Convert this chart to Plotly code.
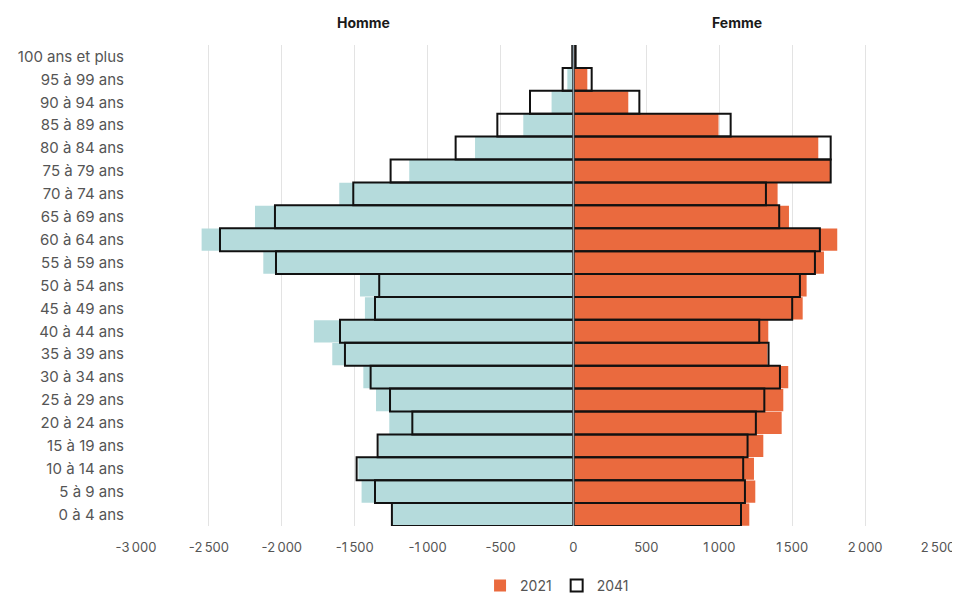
import plotly.graph_objects as go

ages = ["0 à 4 ans", "5 à 9 ans", "10 à 14 ans", "15 à 19 ans", "20 à 24 ans",
        "25 à 29 ans", "30 à 34 ans", "35 à 39 ans", "40 à 44 ans", "45 à 49 ans",
        "50 à 54 ans", "55 à 59 ans", "60 à 64 ans", "65 à 69 ans", "70 à 74 ans",
        "75 à 79 ans", "80 à 84 ans", "85 à 89 ans", "90 à 94 ans", "95 à 99 ans",
        "100 ans et plus"]

hommes_2021 = [1240, 1453, 1475, 1335, 1263, 1354, 1441, 1654, 1780, 1430, 1464,
               2127, 2550, 2184, 1606, 1126, 675, 344, 150, 42, 5]
hommes_2041 = [1245, 1361, 1487, 1343, 1105, 1258, 1391, 1567, 1601, 1361, 1332,
               2040, 2424, 2047, 1510, 1254, 808, 522, 298, 74, 8]
femmes_2021 = [1206, 1247, 1238, 1302, 1428, 1439, 1473, 1330, 1336, 1572, 1599,
               1718, 1809, 1478, 1400, 1760, 1679, 995, 376, 95, 8]
femmes_2041 = [1149, 1176, 1164, 1194, 1251, 1309, 1416, 1338, 1274, 1500, 1553,
               1656, 1690, 1411, 1320, 1764, 1764, 1078, 452, 125, 15]

tick_vals = [-3000, -2500, -2000, -1500, -1000, -500, 0, 500, 1000, 1500, 2000, 2500]
tick_text = ["-3\u202f000", "-2\u202f500", "-2\u202f000", "-1\u202f500", "-1\u202f000",
             "-500", "0", "500", "1\u202f000", "1\u202f500", "2\u202f000", "2\u202f500"]

BLUE = "#b5dbdc"
ORANGE = "#ea6a3e"
FONT = "Inter, Roboto, 'Open Sans', sans-serif"

fig = go.Figure()
fig.add_trace(go.Bar(y=ages, x=[-v for v in hommes_2021], orientation="h",
                     marker=dict(color=BLUE, line=dict(width=0)), width=0.97,
                     name="2021 H", showlegend=False, legendgroup="2021"))
fig.add_trace(go.Bar(y=ages, x=femmes_2021, orientation="h",
                     marker=dict(color=ORANGE, line=dict(width=0)), width=0.97,
                     name="2021", showlegend=True, legendgroup="2021"))
fig.add_trace(go.Bar(y=ages, x=[-v for v in hommes_2041], orientation="h",
                     marker=dict(color="rgba(0,0,0,0)", line=dict(color="#111111", width=2)),
                     width=1.0, name="2041", showlegend=True, legendgroup="2041"))
fig.add_trace(go.Bar(y=ages, x=femmes_2041, orientation="h",
                     marker=dict(color="rgba(0,0,0,0)", line=dict(color="#111111", width=2)),
                     width=1.0, name="2041 F", showlegend=False, legendgroup="2041"))

fig.add_shape(type="line", x0=0, x1=0, y0=0, y1=1, xref="x", yref="paper",
              line=dict(color="#8d9ca6", width=1.5), layer="above")

fig.add_annotation(text="<b>Homme</b>", x=-1443, y=1.046, xref="x", yref="paper",
                   xanchor="center", yanchor="middle",
                   showarrow=False, font=dict(family=FONT, size=14, color="#1a1a1a"))
fig.add_annotation(text="<b>Femme</b>", x=1121, y=1.046, xref="x", yref="paper",
                   xanchor="center", yanchor="middle",
                   showarrow=False, font=dict(family=FONT, size=14, color="#1a1a1a"))

fig.update_layout(
    width=952, height=586,
    barmode="overlay",
    plot_bgcolor="white", paper_bgcolor="white",
    margin=dict(l=128, r=22, t=37, b=68, autoexpand=False),
    font=dict(family=FONT, size=13, color="#555555"),
    legend=dict(orientation="h", x=0.525, y=0.014, xref="paper", yref="container",
                xanchor="center", yanchor="middle",
                font=dict(family=FONT, size=14, color="#555555"),
                traceorder="normal"),
    xaxis=dict(range=[-3000, 2500], tickvals=tick_vals, ticktext=tick_text,
               showgrid=True, gridcolor="#e3e3e3", gridwidth=1, zeroline=False,
               showline=False, tickfont=dict(size=13, color="#555555"),
               ticks="", ticklabelstandoff=12, automargin=False),
    yaxis=dict(categoryorder="array", categoryarray=ages, range=[-0.5, 20.5],
               showgrid=False, zeroline=False, showline=False, ticks="",
               tickfont=dict(size=15, color="#555555"), ticklabelstandoff=11,
               automargin=False),
)

fig.write_html("out.html")
